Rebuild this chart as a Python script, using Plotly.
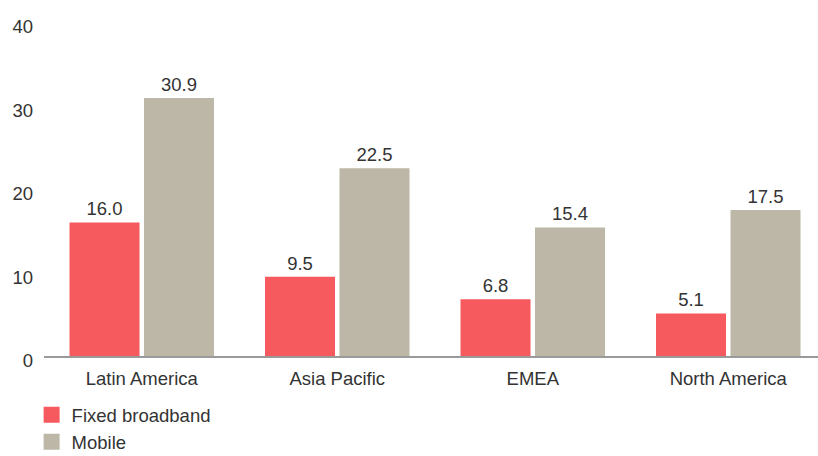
import plotly.graph_objects as go

regions = ["Latin America", "Asia Pacific", "EMEA", "North America"]
fixed_broadband = [16.0, 9.5, 6.8, 5.1]
mobile = [30.9, 22.5, 15.4, 17.5]
y_ticks = [0, 10, 20, 30, 40]

RED = "#F65A5E"
GREY = "#BDB7A8"
TEXT = "#333333"
FONT = "Liberation Sans, Arial, sans-serif"
SIZE = 18.5

fig = go.Figure()
series = [("Fixed broadband", fixed_broadband, RED), ("Mobile", mobile, GREY)]
for name, values, color in series:
    fig.add_trace(go.Bar(
        name=name, x=regions, y=values,
        marker=dict(color=color, line=dict(width=0)),
        text=[f"{v:.1f}" for v in values], textposition="outside",
        textfont=dict(size=SIZE, color=TEXT), cliponaxis=False,
        showlegend=False,
    ))
# square legend keys
for name, values, color in series:
    fig.add_trace(go.Scatter(
        name=name, x=[None], y=[None], mode="markers",
        marker=dict(symbol="square", size=17, color=color),
        showlegend=True,
    ))

fig.update_layout(
    width=818, height=456,
    margin=dict(l=44, r=0, t=22, b=100),
    paper_bgcolor="white", plot_bgcolor="white",
    font=dict(family=FONT, size=SIZE, color=TEXT),
    barmode="group", bargap=0.238, bargroupgap=0.06,
    showlegend=True,
    legend=dict(
        orientation="v", x=-0.016, xanchor="left",
        yref="container", y=0.131, yanchor="top",
        font=dict(size=SIZE, color=TEXT), tracegroupgap=0, itemsizing="trace",
        bgcolor="rgba(0,0,0,0)",
    ),
)
fig.update_xaxes(
    range=[-0.5, 3.459], showgrid=False, zeroline=False,
    showline=True, linecolor="#9a9a9a", linewidth=2,
    ticks="", tickfont=dict(size=SIZE, color=TEXT), ticklabelstandoff=5,
)
fig.update_yaxes(
    range=[0, 40], tickvals=y_ticks, showgrid=False, zeroline=False,
    showline=False, ticks="", tickfont=dict(size=SIZE, color=TEXT),
    ticklabelshift=5, ticklabelstandoff=10,
)

fig.write_html("out.html")
